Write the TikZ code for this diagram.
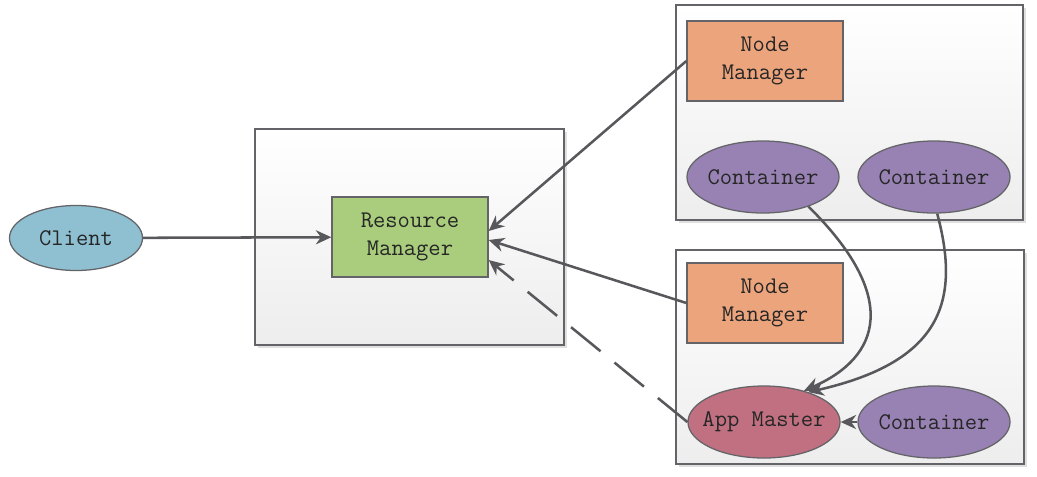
\documentclass[tikz,border=0pt]{standalone}
\usepackage{fontspec}
\usepackage{xcolor}
\usepackage{tikz}
\usetikzlibrary{arrows.meta,shapes.geometric,shadows}

\definecolor{clientblue}{RGB}{142,192,210}
\definecolor{rmgreen}{RGB}{169,205,125}
\definecolor{nmorange}{RGB}{236,164,124}
\definecolor{ctpurple}{RGB}{152,130,180}
\definecolor{amred}{RGB}{192,112,128}
\definecolor{edgegray}{RGB}{100,100,104}
\definecolor{linkgray}{RGB}{88,88,92}

\begin{document}
\begin{tikzpicture}[x=0.025cm,y=-0.025cm,
    lbl/.style={font=\ttfamily\fontsize{17}{20}\selectfont, align=center, text=black!85},
    hostbox/.style={draw=edgegray, line width=0.9pt, top color=white, bottom color=gray!14, inner sep=0pt,
        drop shadow={shadow xshift=2pt, shadow yshift=-2pt, opacity=0.25, fill=gray}},
    rectbox/.style={lbl, draw=edgegray, line width=0.9pt, minimum width=3.9cm, minimum height=2cm, inner sep=0pt},
    ovalbox/.style={lbl, ellipse, draw=edgegray, line width=0.9pt, minimum width=3.8cm, minimum height=1.8cm,
        inner xsep=-0.4cm, inner ysep=0pt},
    link/.style={draw=linkgray, line width=1.8pt, -{Stealth[length=11pt,width=10pt]}}]
    \useasboundingbox (0,0) rectangle (1037,476);

    \node[hostbox, minimum width=7.725cm, minimum height=5.4cm] (rmbox) at (409.5,237) {};
    \node[hostbox, minimum width=8.675cm, minimum height=5.375cm] (topbox) at (849.5,112.5) {};
    \node[hostbox, minimum width=8.7cm, minimum height=5.35cm] (botbox) at (850,357) {};

    \node[ovalbox, fill=clientblue, minimum width=3.325cm, minimum height=1.625cm] (client) at (76,238) {Client};
    \node[rectbox, fill=rmgreen] (rm) at (410,237) {Resource\\Manager};

    \node[rectbox, fill=nmorange] (nm1) at (765,61) {Node\\Manager};
    \node[ovalbox, fill=ctpurple] (c1) at (763,177) {Container};
    \node[ovalbox, fill=ctpurple] (c2) at (934,177) {Container};

    \node[rectbox, fill=nmorange] (nm2) at (765,303) {Node\\Manager};
    \node[ovalbox, fill=amred] (am) at (764,422) {App Master};
    \node[ovalbox, fill=ctpurple] (c3) at (934,422) {Container};

    \draw[link] (client) -- (rm);
    \draw[link] (nm1.west) -- ([yshift=0.15cm]rm.east);
    \draw[link] (nm2.west) -- ([yshift=-0.075cm]rm.east);
    \draw[link, dash pattern=on 0.95cm off 0.45cm] (am.west) -- ([yshift=-0.575cm]rm.east);
    \draw[link] (c1.-33) .. controls (900,297) and (881,357) .. (am.38);
    \draw[link] (c2.-85) .. controls (961,302) and (941,362) .. (am.34);
    \draw[link] (c3) -- (am);
\end{tikzpicture}
\end{document}
